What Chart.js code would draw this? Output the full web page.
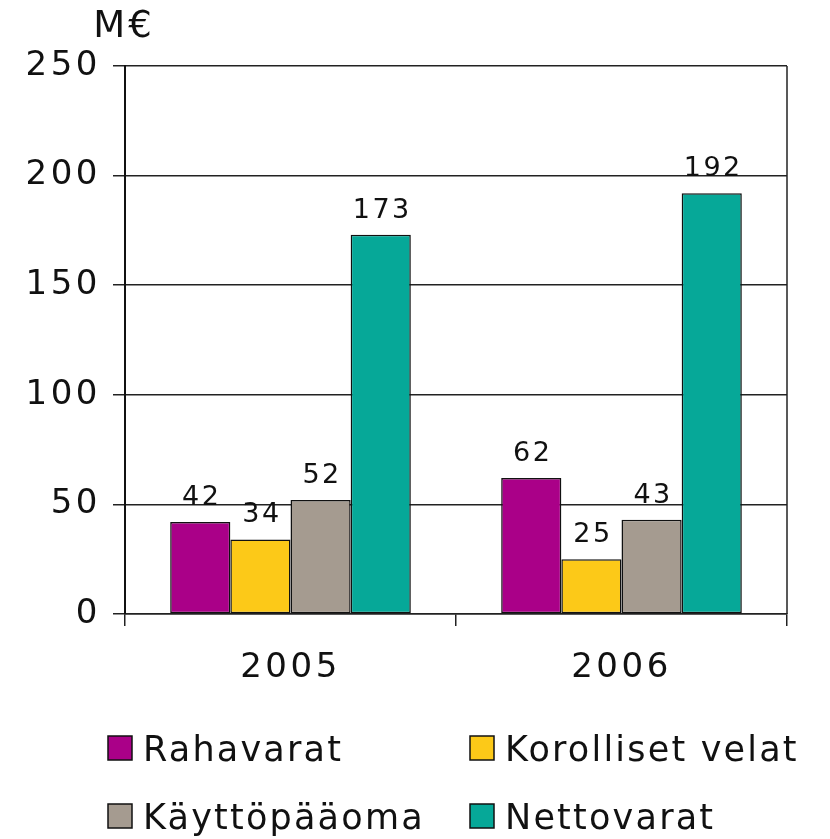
<!DOCTYPE html>
<html>
<head>
<meta charset="utf-8">
<script src="https://cdn.jsdelivr.net/npm/chart.js@4/dist/chart.umd.min.js"></script>
<style>
html,body{margin:0;padding:0;background:#fff;}
#wrap{width:830px;height:839px;}
</style>
</head>
<body>
<div id="wrap"><canvas id="c" width="830" height="839"></canvas></div>
<script>
const categories = ['2005', '2006'];
const seriesNames = ['Rahavarat', 'Korolliset velat', 'Käyttöpääoma', 'Nettovarat'];
const rahavarat = [42, 62];
const korollisetVelat = [34, 25];
const kayttopaaoma = [52, 43];
const nettovarat = [173, 192];
const yTicks = [0, 50, 100, 150, 200, 250];
const yUnit = 'M€';
const colors = ['#AA0088', '#FCC918', '#A59B90', '#06A898'];

const FONT = "'DejaVu Sans', sans-serif";
const seriesValues = [rahavarat, korollisetVelat, kayttopaaoma, nettovarat];

const datasets = seriesNames.map((n, i) => ({
  label: n,
  data: seriesValues[i],
  backgroundColor: colors[i],
  borderColor: '#111',
  borderWidth: 1.5,
  borderSkipped: false,
  categoryPercentage: 0.727,
  barPercentage: 1.0
}));

const spacingPlugin = {
  id: 'spacing',
  beforeDraw(chart) { chart.ctx.letterSpacing = '3.5px'; }
};

const framePlugin = {
  id: 'frame',
  afterDatasetsDraw(chart) {
    const {ctx, chartArea: a} = chart;
    ctx.save();
    ctx.strokeStyle = '#222';
    ctx.lineWidth = 1.5;
    ctx.beginPath();
    ctx.moveTo(a.right, a.top);
    ctx.lineTo(a.right, a.bottom);
    ctx.stroke();
    ctx.restore();
  }
};

const labelsPlugin = {
  id: 'valLabels',
  afterDatasetsDraw(chart) {
    const ctx = chart.ctx;
    ctx.save();
    ctx.letterSpacing = '2.5px';
    ctx.font = '27px ' + FONT;
    ctx.fillStyle = '#111';
    ctx.textAlign = 'center';
    ctx.textBaseline = 'alphabetic';
    chart.data.datasets.forEach((ds, i) => {
      chart.getDatasetMeta(i).data.forEach((bar, j) => {
        ctx.fillText(String(ds.data[j]), bar.x + 1.5, bar.y - 17);
      });
    });
    ctx.restore();
  }
};

const unitPlugin = {
  id: 'unit',
  afterDraw(chart) {
    const ctx = chart.ctx;
    const a = chart.chartArea;
    ctx.save();
    ctx.letterSpacing = '3px';
    ctx.font = '37px ' + FONT;
    ctx.fillStyle = '#111';
    ctx.textAlign = 'center';
    ctx.textBaseline = 'alphabetic';
    ctx.fillText(yUnit, a.left - 1, a.top - 29);
    ctx.restore();
  }
};

const legendPlugin = {
  id: 'customLegend',
  afterDraw(chart) {
    const ctx = chart.ctx;
    const a = chart.chartArea;
    ctx.save();
    ctx.letterSpacing = '2.2px';
    ctx.font = '35px ' + FONT;
    ctx.textBaseline = 'alphabetic';
    ctx.textAlign = 'left';
    const cols = [a.left - 17, a.left + 345];
    const rows = [a.bottom + 134, a.bottom + 202];
    chart.data.datasets.forEach((ds, i) => {
      const x = cols[i % 2], y = rows[Math.floor(i / 2)];
      ctx.fillStyle = ds.backgroundColor;
      ctx.fillRect(x, y - 12, 24, 24);
      ctx.strokeStyle = '#111';
      ctx.lineWidth = 1.5;
      ctx.strokeRect(x, y - 12, 24, 24);
      ctx.fillStyle = '#111';
      ctx.fillText(ds.label, x + 35, y + 13);
    });
    ctx.restore();
  }
};

new Chart(document.getElementById('c'), {
  type: 'bar',
  data: { labels: categories, datasets },
  options: {
    responsive: false,
    animation: false,
    devicePixelRatio: 1,
    layout: { padding: { top: 66, right: 43, left: 0, bottom: 0 } },
    plugins: { legend: { display: false }, tooltip: { enabled: false } },
    scales: {
      x: {
        grid: { display: true, drawOnChartArea: false, offset: true, color: '#222', lineWidth: 1.5, tickLength: 12, tickWidth: 1.5, tickColor: '#222' },
        border: { display: true, color: '#222', width: 1.5 },
        ticks: { color: '#111', font: { family: FONT, size: 34 }, padding: 22 },
        afterFit(s) { s.height = 225; }
      },
      y: {
        min: 0, max: 250,
        afterBuildTicks(s) { s.ticks = yTicks.map(v => ({ value: v })); },
        grid: { color: '#222', lineWidth: 1.5, tickLength: 12, tickColor: '#222' },
        border: { display: true, color: '#111', width: 2 },
        ticks: { color: '#111', font: { family: FONT, size: 34 }, padding: 12 },
        afterFit(s) { s.width = 125; }
      }
    }
  },
  plugins: [spacingPlugin, framePlugin, labelsPlugin, unitPlugin, legendPlugin]
});
</script>
</body>
</html>
